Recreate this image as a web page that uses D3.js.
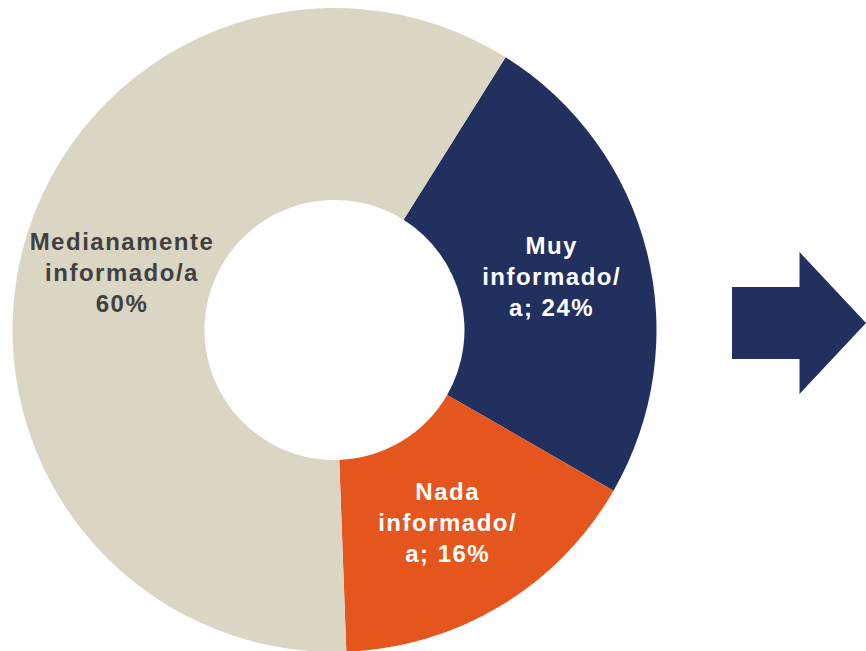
<!DOCTYPE html>
<html><head><meta charset="utf-8">
<script src="https://cdn.jsdelivr.net/npm/d3@7"></script>
<style>html,body{margin:0;padding:0;background:#fff;overflow:hidden}</style>
</head><body><svg id="c" width="866" height="651"></svg>
<script>
const categories = ["Muy informado/a", "Nada informado/a", "Medianamente informado/a"];
const values = [24.4, 16.1, 59.5];
const labelLines = [["Muy", "informado/", "a; 24%"], ["Nada", "informado/", "a; 16%"], ["Medianamente", "informado/a", "60%"]];
const colors = ["#22305F", "#E4561D", "#DBD6C4"];
const textColors = ["#FFFFFF", "#FFFFFF", "#404040"];

const svg = d3.select("#c");
const cx = 334.5, cy = 330, R = 322, r0 = 130;
const deg = Math.PI / 180;
const start = 32.1 * deg;

const pie = d3.pie().sort(null).value(d => d).startAngle(start).endAngle(start + 2 * Math.PI);
const arcs = pie(values);
const arc = d3.arc().innerRadius(r0).outerRadius(R);

const g = svg.append("g").attr("transform", `translate(${cx},${cy})`);
g.selectAll("path").data(arcs).enter().append("path")
  .attr("d", arc).attr("fill", (d, i) => colors[i]);

// label positions: angle (clockwise from top) and radius
const labelAngleOverride = [null, null, 285.2 * deg];
const labelR = [223, 223, 221];
arcs.forEach((a, i) => {
  const ang = labelAngleOverride[i] !== null ? labelAngleOverride[i] : (a.startAngle + a.endAngle) / 2 + (i === 1 ? 0.8 * deg : 0);
  const x = Math.sin(ang) * labelR[i];
  const y = -Math.cos(ang) * labelR[i];
  const t = g.append("text")
    .attr("text-anchor", "middle")
    .attr("font-family", "'Liberation Sans', Arial, sans-serif")
    .attr("font-weight", "bold")
    .attr("font-size", 24)
    .attr("letter-spacing", "1.5px")
    .attr("fill", textColors[i]);
  const lines = labelLines[i];
  lines.forEach((ln, k) => {
    t.append("tspan").attr("x", x + 0.75)
      .attr("y", y + (k - (lines.length - 1) / 2) * 31 + 8.5)
      .text(ln);
  });
});

// right arrow
const ax0 = 732, ax1 = 799.5, ax2 = 866, ay = 323, bodyH = 36, headH = 71;
const arrowPts = [[ax0, ay - bodyH], [ax1, ay - bodyH], [ax1, ay - headH], [ax2, ay], [ax1, ay + headH], [ax1, ay + bodyH], [ax0, ay + bodyH]];
svg.append("path").attr("d", d3.line()(arrowPts) + "Z").attr("fill", "#22305F");
</script></body></html>
